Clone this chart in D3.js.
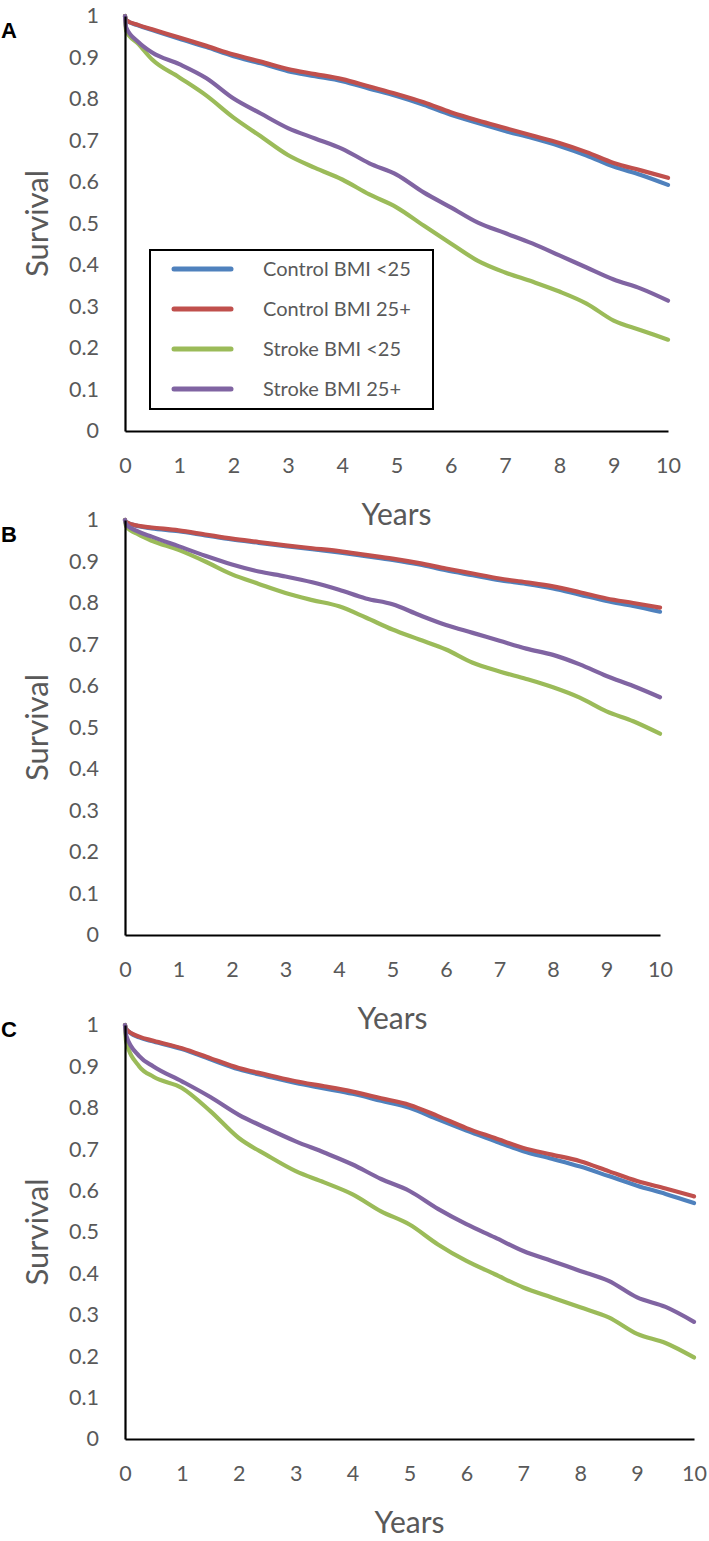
<!DOCTYPE html>
<html><head><meta charset="utf-8">
<script src="https://cdn.jsdelivr.net/npm/d3@7"></script>
<style>
html,body{margin:0;padding:0;background:#fff;}
svg{display:block;}
</style></head>
<body>
<script>
// ---- data ----
const years = [0, 0.02, 0.25, 0.5, 1, 1.5, 2, 2.5, 3, 3.5, 4, 4.5, 5, 5.5, 6, 6.5, 7, 7.5, 8, 8.5, 9, 9.5, 10];
const seriesNames = ["Control BMI <25", "Control BMI 25+", "Stroke BMI <25", "Stroke BMI 25+"];
const xTicks = [0,1,2,3,4,5,6,7,8,9,10];
const yTicks = [0,0.1,0.2,0.3,0.4,0.5,0.6,0.7,0.8,0.9,1];

// Panel A
const A_controlUnder25 = [1,0.99,0.977,0.966,0.945,0.925,0.903,0.886,0.867,0.855,0.843,0.825,0.807,0.786,0.762,0.742,0.723,0.706,0.687,0.664,0.637,0.617,0.593];
const A_control25plus  = [1,0.99,0.978,0.968,0.948,0.928,0.907,0.89,0.872,0.86,0.848,0.83,0.812,0.792,0.768,0.748,0.73,0.712,0.694,0.672,0.646,0.628,0.61];
const A_strokeUnder25  = [1,0.965,0.932,0.895,0.852,0.808,0.755,0.71,0.665,0.634,0.606,0.57,0.539,0.495,0.452,0.41,0.382,0.36,0.336,0.307,0.266,0.243,0.22];
const A_stroke25plus   = [1,0.973,0.937,0.912,0.884,0.85,0.801,0.765,0.73,0.705,0.68,0.645,0.618,0.575,0.539,0.502,0.477,0.452,0.423,0.394,0.365,0.343,0.314];
// Panel B
const B_controlUnder25 = [1,0.995,0.985,0.98,0.973,0.963,0.953,0.945,0.937,0.93,0.922,0.913,0.904,0.893,0.879,0.867,0.855,0.846,0.835,0.82,0.805,0.793,0.779];
const B_control25plus  = [1,0.995,0.986,0.982,0.975,0.965,0.955,0.947,0.939,0.932,0.925,0.916,0.907,0.896,0.883,0.871,0.859,0.85,0.84,0.826,0.811,0.8,0.789];
const B_strokeUnder25  = [1,0.985,0.965,0.95,0.928,0.9,0.869,0.846,0.824,0.807,0.792,0.765,0.736,0.712,0.688,0.656,0.635,0.617,0.597,0.572,0.539,0.515,0.485];
const B_stroke25plus   = [1,0.99,0.972,0.96,0.937,0.914,0.893,0.876,0.864,0.85,0.832,0.811,0.797,0.771,0.747,0.728,0.709,0.69,0.675,0.652,0.624,0.6,0.573];
// Panel C
const C_controlUnder25 = [1,0.99,0.97,0.96,0.942,0.917,0.893,0.876,0.86,0.847,0.834,0.817,0.8,0.772,0.745,0.72,0.695,0.677,0.658,0.635,0.612,0.592,0.57];
const C_control25plus  = [1,0.99,0.972,0.962,0.944,0.92,0.896,0.88,0.864,0.852,0.839,0.823,0.807,0.78,0.751,0.727,0.703,0.687,0.671,0.647,0.623,0.605,0.586];
const C_strokeUnder25  = [1,0.96,0.9,0.875,0.848,0.792,0.727,0.685,0.647,0.62,0.591,0.55,0.518,0.47,0.43,0.398,0.366,0.342,0.318,0.294,0.254,0.232,0.197];
const C_stroke25plus   = [1,0.975,0.925,0.9,0.864,0.826,0.783,0.75,0.719,0.692,0.663,0.628,0.599,0.556,0.519,0.487,0.454,0.43,0.406,0.382,0.342,0.319,0.283];

// ---- layout / style ----
const colors = ["#4F81BD", "#C0504D", "#9BBB59", "#8064A2"];
const panels = [
  {label:"A", data:[A_controlUnder25,A_control25plus,A_strokeUnder25,A_stroke25plus], x0:125, x1:668, yTop:16, yBot:431, labelY:38, legend:true},
  {label:"B", data:[B_controlUnder25,B_control25plus,B_strokeUnder25,B_stroke25plus], x0:125, x1:660, yTop:520, yBot:935, labelY:542, legend:false},
  {label:"C", data:[C_controlUnder25,C_control25plus,C_strokeUnder25,C_stroke25plus], x0:125, x1:694, yTop:1025, yBot:1439, labelY:1037, legend:false}
];
const W = 709, H = 1541;
const font = "Lato, 'Open Sans', sans-serif";
const textColor = "#595959";

const svg = d3.select("body").append("svg").attr("width", W).attr("height", H);

panels.forEach(p => {
  const x = d3.scaleLinear().domain([0,10]).range([p.x0, p.x1]);
  const y = d3.scaleLinear().domain([0,1]).range([p.yBot, p.yTop]);
  const g = svg.append("g");

  // curves
  const line = d3.line().x((d,i)=>x(years[i])).y(d=>y(d)).curve(d3.curveMonotoneX);
  p.data.forEach((s,k)=>{
    g.append("path").datum(s).attr("d", line)
      .attr("fill","none").attr("stroke", colors[k]).attr("stroke-width", 4.2)
      .attr("stroke-linejoin","round").attr("stroke-linecap","round");
  });

  // axes
  const yAxis = d3.axisLeft(y).tickValues(yTicks).tickSize(0).tickPadding(26)
      .tickFormat(d => d3.format("~g")(d));
  const gy = g.append("g").attr("transform", `translate(${p.x0},0)`).call(yAxis);
  const xAxis = d3.axisBottom(x).tickValues(xTicks).tickSize(0).tickPadding(27).tickFormat(d3.format("d"));
  const gx = g.append("g").attr("transform", `translate(0,${p.yBot})`).call(xAxis);
  [gx, gy].forEach(a => {
    a.select(".domain").attr("stroke","#000").attr("stroke-width",2.2);
    a.selectAll("text").attr("font-family", font).attr("font-size", 21.5).attr("fill", textColor);
  });

  // axis titles
  g.append("text").attr("x", (p.x0+p.x1)/2).attr("y", p.yBot + 94)
    .attr("text-anchor","middle").attr("font-family", font).attr("font-size", 30)
    .attr("fill", textColor).text("Years");
  g.append("text").attr("transform", `translate(48,${(p.yTop+p.yBot)/2}) rotate(-90)`)
    .attr("text-anchor","middle").attr("font-family", font).attr("font-size", 31)
    .attr("fill", textColor).text("Survival");

  // panel label
  g.append("text").attr("x", 1).attr("y", p.labelY)
    .attr("font-family","'Liberation Sans', Arial, sans-serif").attr("font-weight","bold")
    .attr("font-size", 22).attr("fill","#000").text(p.label);

  // legend
  if (p.legend) {
    const lg = g.append("g");
    lg.append("rect").attr("x",150).attr("y",250).attr("width",283).attr("height",159)
      .attr("fill","#fff").attr("stroke","#000").attr("stroke-width",2);
    seriesNames.forEach((n,k)=>{
      const cy = 269 + k*40;
      lg.append("line").attr("x1",174).attr("x2",231).attr("y1",cy).attr("y2",cy)
        .attr("stroke", colors[k]).attr("stroke-width",5).attr("stroke-linecap","round");
      lg.append("text").attr("x",263).attr("y",cy).attr("dy","0.35em")
        .attr("font-family", font).attr("font-size", 20).attr("fill", textColor).text(n);
    });
  }
});
</script>
</body></html>
